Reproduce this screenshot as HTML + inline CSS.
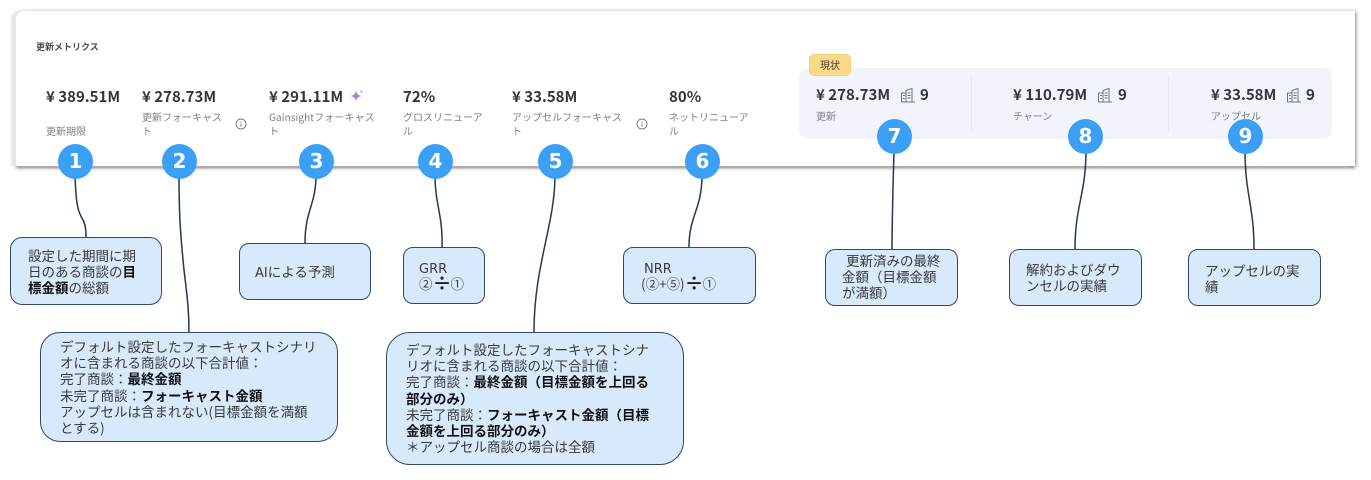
<!DOCTYPE html>
<html lang="ja">
<head>
<meta charset="utf-8">
<title>更新メトリクス</title>
<style>
html,body{margin:0;padding:0;background:#fefefe;}
body{position:relative;width:1371px;height:480px;overflow:hidden;font-family:"Liberation Sans","Noto Sans CJK JP",sans-serif;color:#333;}
#w{position:absolute;left:0;top:0;width:1371px;height:480px;filter:blur(0.35px);}
.card{position:absolute;left:16px;top:11px;width:1339px;height:155px;background:#fff;border-radius:8px 0 0 2px;box-shadow:-5px 0 2px #e6e6e8,0 2px 3px #77797c,2px 0 3px #cfcfd2,0 -1px 3px #eef0f5;}
.panel{position:absolute;left:799px;top:68px;width:533px;height:71px;background:#f1f4fa;border-radius:9px;}
.div{position:absolute;top:75px;width:1px;height:57px;background:#e6e9f0;}
.badge{position:absolute;left:809px;top:54px;width:42px;height:22px;background:#fbd98a;border:1px solid #f6cf78;border-radius:5px;box-sizing:border-box;font:10px/20px "Noto Sans CJK JP",sans-serif;text-align:center;color:#4a4028;}
.t{position:absolute;white-space:nowrap;font-family:"Noto Sans CJK JP","Liberation Sans",sans-serif;}
.v{font-size:15px;line-height:20px;font-weight:700;color:#33363c;}
.l{font-size:10px;line-height:14px;color:#7d8087;}
.n{position:absolute;width:35px;height:35px;border-radius:50%;background:#3b9ff5;color:#fff;font:700 20px/35px "DejaVu Sans",sans-serif;text-align:center;}
.b{position:absolute;box-sizing:border-box;background:#d7e9fb;border:1.6px solid #2f4a62;}
.x{position:absolute;white-space:nowrap;font-family:"Noto Sans CJK JP","Liberation Sans",sans-serif;font-size:13.5px;line-height:16.2px;color:#3a3a3a;}
.x b{font-weight:700;color:#111;}
.m{font-family:"DejaVu Sans",sans-serif;font-size:13px;}
.d{display:inline-block;width:18px;text-align:center;font-size:19px;font-weight:700;color:#222;line-height:16px;vertical-align:-1px;}
svg{position:absolute;left:0;top:0;}
</style>
</head>
<body>
<div id="w">
<div class="card"></div>
<div class="t" style="left:36px;top:40px;font-size:9px;line-height:13px;font-weight:700;color:#4a4d53;">更新メトリクス</div>

<div class="t v" style="left:46px;top:87px;">¥ 389.51M</div>
<div class="t l" style="left:46px;top:124px;">更新期限</div>
<div class="t v" style="left:142px;top:87px;">¥ 278.73M</div>
<div class="t l" style="left:142px;top:110px;">更新フォーキャス<br>ト</div>
<div class="t v" style="left:269px;top:87px;">¥ 291.11M</div>
<div class="t l" style="left:269px;top:110px;letter-spacing:.1px;">Gainsightフォーキャス<br>ト</div>
<div class="t v" style="left:403px;top:87px;">72%</div>
<div class="t l" style="left:403px;top:110px;">グロスリニューア<br>ル</div>
<div class="t v" style="left:512px;top:87px;">¥ 33.58M</div>
<div class="t l" style="left:512px;top:110px;">アップセルフォーキャス<br>ト</div>
<div class="t v" style="left:669px;top:87px;">80%</div>
<div class="t l" style="left:669px;top:110px;">ネットリニューア<br>ル</div>

<div class="panel"></div>
<div class="div" style="left:971px;"></div>
<div class="div" style="left:1168px;"></div>
<div class="badge">現状</div>
<div class="t v" style="left:816px;top:85px;">¥ 278.73M</div>
<div class="t v" style="left:920px;top:85px;">9</div>
<div class="t l" style="left:816px;top:109px;">更新</div>
<div class="t v" style="left:1013px;top:85px;">¥ 110.79M</div>
<div class="t v" style="left:1118px;top:85px;">9</div>
<div class="t l" style="left:1013px;top:109px;">チャーン</div>
<div class="t v" style="left:1211px;top:85px;">¥ 33.58M</div>
<div class="t v" style="left:1306px;top:85px;">9</div>
<div class="t l" style="left:1211px;top:109px;">アップセル</div>

<svg width="1371" height="480" viewBox="0 0 1371 480" fill="none">
<defs>
<g id="bld" stroke="#6f757e" stroke-width="1" fill="none">
<path d="M0.5 14V5H5M5 14V2.500L11 0.500V14M0 14H14"/>
<path d="M6.500 5H9.500M6.500 7.500H9.500M6.500 10H9.500M2 7.500H3.800M2 10.500H3.800"/>
</g>
<g id="inf">
<circle cx="0" cy="0" r="5" stroke="#777" stroke-width="0.9" fill="none"/>
<path d="M0 -0.500V2.500" stroke="#777" stroke-width="1"/>
<circle cx="0" cy="-2" r="0.600" fill="#777"/>
</g>
</defs>
<use href="#inf" x="241" y="124"/>
<use href="#inf" x="642" y="124"/>
<use href="#bld" x="901" y="88"/>
<use href="#bld" x="1098" y="88"/>
<use href="#bld" x="1287" y="88"/>
<path d="M356 90C356.600 94 358 95.400 362 96C358 96.600 356.600 98 356 102C355.400 98 354 96.600 350 96C354 95.400 355.400 94 356 90Z" fill="#b07fe0"/>
<path d="M361.500 89.500l.6 1.400 1.400 .6-1.400 .6-.6 1.400-.6-1.400-1.400-.6 1.400-.6z" fill="#c9a6ea"/>
<g stroke="#1f3a52" stroke-width="1.500">
<path d="M75 175C76 205 78 212 83 220C86 226 86 232 86 238"/>
<path d="M179 175C179 220 181 240 184 270C187 295 189 310 189 332"/>
<path d="M316 175C316 205 305 210 305 243"/>
<path d="M435 175C435 205 443 215 442 247"/>
<path d="M555 175C555 225 534 265 534 332"/>
<path d="M702 175C702 210 689 215 689 247"/>
<path d="M894 150C893 190 892 220 892 249"/>
<path d="M1086 150C1086 195 1075 205 1075 249"/>
<path d="M1245 150C1245 195 1254 205 1254 249"/>
</g>
</svg>

<div class="n" style="left:58px;top:144px;">1</div>
<div class="n" style="left:162px;top:144px;">2</div>
<div class="n" style="left:299px;top:144px;">3</div>
<div class="n" style="left:418px;top:144px;">4</div>
<div class="n" style="left:538px;top:144px;">5</div>
<div class="n" style="left:685px;top:144px;">6</div>
<div class="n" style="left:877px;top:119px;">7</div>
<div class="n" style="left:1068px;top:119px;">8</div>
<div class="n" style="left:1228px;top:119px;">9</div>

<div class="b" style="left:10px;top:237px;width:152px;height:68px;border-radius:12px;"></div>
<div class="x" style="left:28px;top:247px;">設定した期間に期<br>日のある商談の<b>目</b><br><b>標金額</b>の総額</div>

<div class="b" style="left:40px;top:332px;width:298px;height:110px;border-radius:20px;"></div>
<div class="x" style="left:60px;top:338px;">デフォルト設定したフォーキャストシナリ<br>オに含まれる商談の以下合計値：<br>完了商談：<b>最終金額</b><br>未完了商談：<b>フォーキャスト金額</b><br>アップセルは含まれない(目標金額を満額<br>とする)</div>

<div class="b" style="left:239px;top:243px;width:132px;height:57px;border-radius:10px;"></div>
<div class="x" style="left:255px;top:263px;"><span class="m">AI</span>による予測</div>

<div class="b" style="left:403px;top:247px;width:82px;height:57px;border-radius:10px;"></div>
<div class="x" style="left:419px;top:259px;"><span class="m">GRR</span></div>
<div class="x" style="left:419px;top:275px;">②<span class="d">÷</span>①</div>

<div class="b" style="left:386px;top:332px;width:298px;height:133px;border-radius:24px;"></div>
<div class="x" style="left:406px;top:341px;">デフォルト設定したフォーキャストシナ<br>リオに含まれる商談の以下合計値：<br>完了商談：<b>最終金額（目標金額を上回る</b><br><b>部分のみ）</b><br>未完了商談：<b>フォーキャスト金額（目標</b><br><b>金額を上回る部分のみ）</b><br>＊アップセル商談の場合は全額</div>

<div class="b" style="left:623px;top:247px;width:133px;height:57px;border-radius:10px;"></div>
<div class="x" style="left:644px;top:259px;"><span class="m">NRR</span></div>
<div class="x" style="left:641px;top:275px;">(②+⑤)<span class="d">÷</span>①</div>

<div class="b" style="left:825px;top:249px;width:133px;height:57px;border-radius:10px;"></div>
<div class="x" style="left:846px;top:252px;">更新済みの最終</div>
<div class="x" style="left:842px;top:268px;">金額（目標金額<br>が満額）</div>

<div class="b" style="left:1009px;top:249px;width:133px;height:57px;border-radius:10px;"></div>
<div class="x" style="left:1026px;top:261px;">解約およびダウ<br>ンセルの実績</div>

<div class="b" style="left:1188px;top:249px;width:133px;height:57px;border-radius:10px;"></div>
<div class="x" style="left:1205px;top:262px;">アップセルの実<br>績</div>
</div>
</body>
</html>
